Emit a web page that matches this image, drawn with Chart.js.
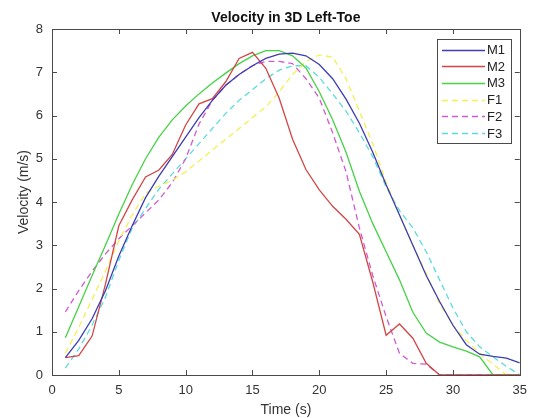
<!DOCTYPE html>
<html>
<head>
<meta charset="utf-8">
<script src="https://cdn.jsdelivr.net/npm/chart.js@4/dist/chart.umd.min.js"></script>
<style>
html,body{margin:0;padding:0;background:#fff;}
#wrap{width:535px;height:418px;}
</style>
</head>
<body>
<div id="wrap"><canvas id="c" width="535" height="418"></canvas></div>
<script>
const titleText = "Velocity in 3D Left-Toe";
const xTitle = "Time (s)";
const yTitle = "Velocity (m/s)";
const time = [1,2,3,4,5,6,7,8,9,10,11,12,13,14,15,16,17,18,19,20,21,22,23,24,25,26,27,28,29,30,31,32,33,34,35];
const seriesNames = ["M1","M2","M3","F1","F2","F3"];
const M1 = [0.4,0.8,1.3,1.95,2.75,3.45,4.1,4.6,5.05,5.5,5.95,6.35,6.7,6.95,7.15,7.32,7.42,7.44,7.38,7.18,6.85,6.38,5.82,5.15,4.4,3.7,3.0,2.3,1.7,1.15,0.7,0.48,0.43,0.39,0.28];
const M2 = [0.4,0.45,0.9,2.1,3.45,4.05,4.58,4.74,5.1,5.78,6.27,6.39,6.78,7.32,7.46,7.09,6.4,5.45,4.75,4.28,3.9,3.6,3.25,2.15,0.92,1.18,0.85,0.27,0,0,0,0,0,0,0];
const M3 = [0.86,1.58,2.3,3.0,3.72,4.4,5.0,5.5,5.9,6.22,6.5,6.75,6.98,7.2,7.38,7.5,7.5,7.38,7.1,6.55,5.9,5.15,4.25,3.5,2.85,2.2,1.45,0.97,0.76,0.65,0.55,0.42,0,0,0];
const F1 = [0.5,1.1,1.75,2.4,3.1,3.7,4.2,4.37,4.5,4.7,4.95,5.2,5.45,5.7,5.95,6.2,6.55,6.95,7.25,7.4,7.35,6.85,6.1,5.35,4.45,3.7,3.0,2.35,1.65,1.15,0.8,0.5,0.25,0,0];
const F2 = [1.46,1.95,2.4,2.8,3.15,3.45,3.75,4.05,4.45,5.0,5.8,6.35,6.7,6.95,7.15,7.25,7.25,7.2,6.85,6.4,5.6,4.7,3.4,2.3,1.35,0.5,0.27,0.25,0,0,0,0,0,0,0];
const F3 = [0.16,0.6,1.15,1.8,2.65,3.4,3.85,4.3,4.65,5.0,5.35,5.7,6.05,6.35,6.6,6.85,7.05,7.15,7.15,6.88,6.5,6.1,5.6,5.05,4.35,3.8,3.4,2.85,2.2,1.55,1.0,0.65,0.42,0.2,0];
const xTicks = [0,5,10,15,20,25,30,35];
const yTicks = [0,1,2,3,4,5,6,7,8];

const values = [M1,M2,M3,F1,F2,F3];
const colors = ["#3c3cb4","#d24646","#46d246","#f5f050","#d25ad2","#5adcdc"];
const dashed = [false,false,false,true,true,true];
const DASH = [6,4];
const axisColor = "#4a4a4a";
const textColor = "#333333";
const FONT = "'Liberation Sans', Arial, Helvetica, sans-serif";

const datasets = seriesNames.map((n,i)=>({
  label:n,
  data: time.map((t,j)=>({x:t,y:values[i][j]})),
  borderColor: colors[i],
  backgroundColor: colors[i],
  borderWidth: 1.3,
  borderDash: dashed[i] ? DASH : [],
  pointRadius: 0,
  tension: 0,
  fill: false
}));

const decor = {
  id:'decor',
  afterDraw(chart){
    const ctx = chart.ctx;
    const a = chart.chartArea;
    const xs = chart.scales.x, ys = chart.scales.y;
    ctx.save();
    ctx.strokeStyle = axisColor;
    ctx.lineWidth = 1;
    ctx.strokeRect(Math.round(a.left)+0.5, Math.round(a.top)+0.5, Math.round(a.right-a.left), Math.round(a.bottom-a.top));
    const tl = 5;
    ctx.beginPath();
    xTicks.forEach(v=>{
      const px = Math.round(xs.getPixelForValue(v))+0.5;
      ctx.moveTo(px, a.bottom); ctx.lineTo(px, a.bottom - tl);
      ctx.moveTo(px, a.top); ctx.lineTo(px, a.top + tl);
    });
    yTicks.forEach(v=>{
      const py = Math.round(ys.getPixelForValue(v))+0.5;
      ctx.moveTo(a.left, py); ctx.lineTo(a.left + tl, py);
      ctx.moveTo(a.right, py); ctx.lineTo(a.right - tl, py);
    });
    ctx.stroke();
    ctx.fillStyle = "#111";
    ctx.font = "bold 14px " + FONT;
    ctx.textAlign = "center";
    ctx.textBaseline = "alphabetic";
    ctx.fillText(titleText, (a.left+a.right)/2, 22);
    ctx.fillStyle = textColor;
    ctx.font = "14px " + FONT;
    ctx.fillText(xTitle, (a.left+a.right)/2, 414);
    ctx.save();
    ctx.translate(28, 192);
    ctx.rotate(-Math.PI/2);
    ctx.fillText(yTitle, 0, 0);
    ctx.restore();
    const lx = 437, ly = 39, lw = 74, lh = 104;
    ctx.fillStyle = "#fff";
    ctx.fillRect(lx, ly, lw, lh);
    ctx.strokeStyle = axisColor;
    ctx.lineWidth = 1;
    ctx.setLineDash([]);
    ctx.strokeRect(lx+0.5, ly+0.5, lw, lh);
    ctx.font = "13px " + FONT;
    ctx.textAlign = "left";
    ctx.textBaseline = "middle";
    chart.data.datasets.forEach((d,i)=>{
      const y = 49.5 + i*16.7;
      ctx.strokeStyle = d.borderColor;
      ctx.lineWidth = 1.3;
      ctx.setLineDash(d.borderDash || []);
      ctx.beginPath();
      ctx.moveTo(442, Math.round(y)+0.5);
      ctx.lineTo(485, Math.round(y)+0.5);
      ctx.stroke();
      ctx.setLineDash([]);
      ctx.fillStyle = "#222";
      ctx.fillText(d.label, 487, y+1);
    });
    ctx.restore();
  }
};

new Chart(document.getElementById('c'), {
  type:'line',
  data:{datasets},
  options:{
    responsive:false,
    animation:false,
    devicePixelRatio:1,
    layout:{padding:{left:0,top:29,right:14,bottom:0}},
    plugins:{legend:{display:false},title:{display:false},tooltip:{enabled:false}},
    scales:{
      x:{
        type:'linear', min:0, max:35,
        afterBuildTicks(s){ s.ticks = xTicks.map(v=>({value:v})); },
        afterFit(s){ s.height = 43; },
        grid:{display:false, drawTicks:false},
        border:{display:false},
        ticks:{color:textColor, font:{size:13, family:FONT}, padding:8, maxRotation:0, autoSkip:false}
      },
      y:{
        type:'linear', min:0, max:8,
        afterBuildTicks(s){ s.ticks = yTicks.map(v=>({value:v})); },
        afterFit(s){ s.width = 52; },
        grid:{display:false, drawTicks:false},
        border:{display:false},
        ticks:{color:textColor, font:{size:13, family:FONT}, padding:9, autoSkip:false}
      }
    }
  },
  plugins:[decor]
});
</script>
</body>
</html>
